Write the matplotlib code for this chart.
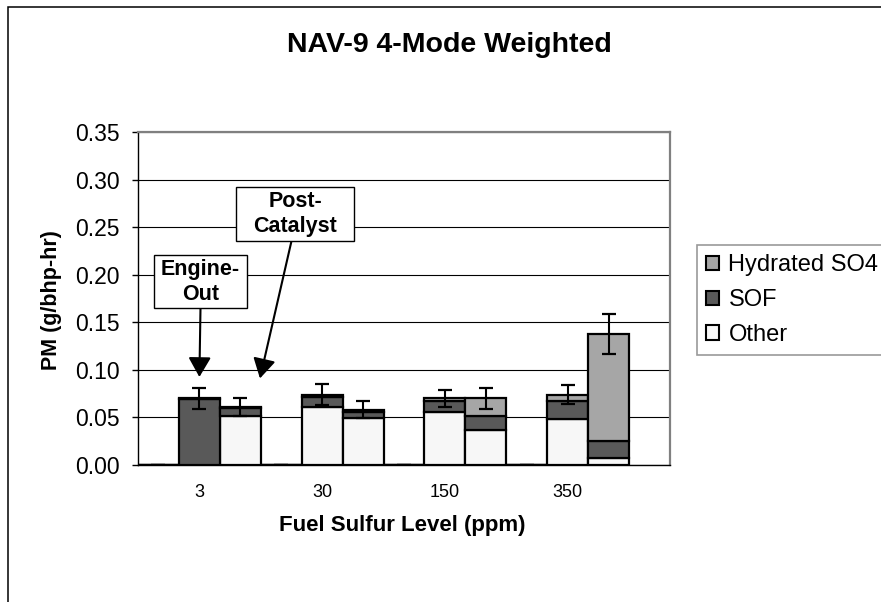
import numpy as np
import matplotlib
matplotlib.use('Agg')
import matplotlib.pyplot as plt
from matplotlib.patches import Rectangle, Patch

plt.rcParams['font.family'] = ['Liberation Sans', 'DejaVu Sans']

# slots: blank, engine-out, post-catalyst for each sulfur level
slot_labels = ['', '3', '', '', '30', '', '', '150', '', '', '350', '']
other = [0, 0.000, 0.051, 0, 0.061, 0.049, 0, 0.056, 0.037, 0, 0.048, 0.007]
sof = [0, 0.069, 0.0085, 0, 0.010, 0.007, 0, 0.011, 0.015, 0, 0.019, 0.018]
so4 = [0, 0.001, 0.001, 0, 0.003, 0.002, 0, 0.003, 0.018, 0, 0.007, 0.113]
err = [0, 0.011, 0.0095, 0, 0.0107, 0.009, 0, 0.0087, 0.011, 0, 0.0097, 0.021]

c_other = '#f7f7f7'
c_sof = '#595959'
c_so4 = '#a6a6a6'

x = np.arange(len(other))
other = np.array(other)
sof = np.array(sof)
so4 = np.array(so4)
total = other + sof + so4

fig = plt.figure(figsize=(8.81, 6.02), dpi=100)
ax = fig.add_axes([138/881, 1-465/602, 532/881, 333/602])

ax.bar(x, other, width=1.0, color=c_other, edgecolor='black', lw=1.6, zorder=2)
ax.bar(x, sof, width=1.0, bottom=other, color=c_sof, edgecolor='black', lw=1.6, zorder=2)
ax.bar(x, so4, width=1.0, bottom=other+sof, color=c_so4, edgecolor='black', lw=1.6, zorder=2)
ax.errorbar(x, total, yerr=err, fmt='none', ecolor='black', elinewidth=1.5,
            capsize=4.8, capthick=1.6, zorder=3)

ax.set_xlim(-0.5, 12.5)
ax.set_ylim(0, 0.35)
ax.set_yticks(np.arange(0, 0.351, 0.05))
ax.set_yticklabels(['%.2f' % v for v in np.arange(0, 0.351, 0.05)], fontsize=16.5)
ax.set_xticks(x)
ax.set_xticklabels(slot_labels, fontsize=13)
ax.tick_params(axis='x', length=0, pad=14)
ax.tick_params(axis='y', length=4, width=1, pad=9)
ax.yaxis.grid(True, color='black', lw=0.8)
ax.set_axisbelow(True)
for s in ['top', 'right']:
    ax.spines[s].set_color('#808080')
    ax.spines[s].set_linewidth(1.6)
for s in ['left', 'bottom']:
    ax.spines[s].set_color('black')
    ax.spines[s].set_linewidth(1.0)

fig.text(449/881, 1-45/602, 'NAV-9 4-Mode Weighted', fontsize=20.5, fontweight='bold',
         ha='center', va='center')
fig.text(402/881, 1-526/602, 'Fuel Sulfur Level (ppm)', fontsize=16, fontweight='bold',
         ha='center', va='center')
fig.text(52/881, 1-300/602, 'PM (g/bhp-hr)', fontsize=15.5, fontweight='bold',
         ha='center', va='center', rotation=90)

# outer chart frame
fig.patches.append(Rectangle((8/881, -0.1), 1.2, 1-7/602+0.1, transform=fig.transFigure,
                             fill=False, edgecolor='black', lw=1.1))

# callout boxes
def callout(x0, y0, x1, y1, text):
    fig.patches.append(Rectangle((x0/881, 1-y1/602), (x1-x0)/881, (y1-y0)/602,
                                 transform=fig.transFigure, facecolor='white',
                                 edgecolor='black', lw=1.0, zorder=5))
    fig.text((x0+x1)/2/881, 1-(y0+y1)/2/602, text, fontsize=15.5, fontweight='bold',
             ha='center', va='center', linespacing=1.25, zorder=6)

callout(154, 255, 247, 308, 'Engine-\nOut')
callout(236, 187, 354, 241, 'Post-\nCatalyst')
arrow = dict(arrowstyle='-|>,head_length=0.4,head_width=0.23', mutation_scale=30,
             color='black', lw=1.5, shrinkA=0, shrinkB=0)
ax.annotate('', xy=(1, 0.0925), xycoords='data', xytext=(200.5/881, 1-308/602),
            textcoords='figure fraction', arrowprops=arrow)
ax.annotate('', xy=(2.48, 0.091), xycoords='data', xytext=(291.5/881, 1-241/602),
            textcoords='figure fraction', arrowprops=arrow)

handles = [Patch(facecolor=c_so4, edgecolor='black', lw=1.5),
           Patch(facecolor=c_sof, edgecolor='black', lw=1.5),
           Patch(facecolor=c_other, edgecolor='black', lw=1.5)]
leg = fig.legend(handles, ['Hydrated SO4', 'SOF', 'Other'], loc='upper left',
                 bbox_to_anchor=(697/881, 1-245/602), bbox_transform=fig.transFigure,
                 fontsize=17, frameon=True, fancybox=False, borderaxespad=0,
                 handlelength=0.55, handleheight=0.55, handletextpad=0.38,
                 labelspacing=0.54, borderpad=0.4)
leg.get_frame().set_edgecolor('#808080')
leg.get_frame().set_linewidth(1.2)

fig.savefig('out.png', dpi=100)
